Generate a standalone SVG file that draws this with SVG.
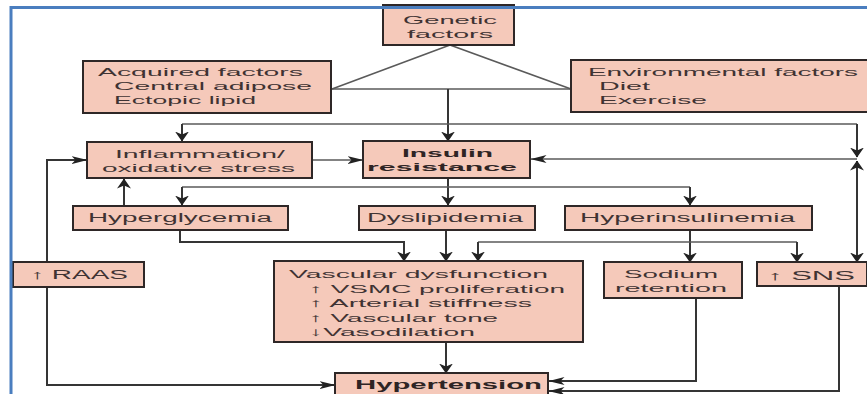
<svg xmlns="http://www.w3.org/2000/svg" width="867" height="394" viewBox="0 0 867 394">
<style>
.box{fill:#f5c9ba;stroke:#2e2727;stroke-width:2}
.t{font-family:"Liberation Sans",Arial,sans-serif;font-size:12.5px;fill:#3f3333}
.s{font-size:11.5px}
.b{font-weight:bold;fill:#2e2424}
.c{fill:none;stroke:#353535;stroke-width:2}
.g{fill:none;stroke:#5a5a5a;stroke-width:1.6}
</style>
<defs>
<marker id="av" markerUnits="userSpaceOnUse" markerWidth="10" markerHeight="14" viewBox="0 0 10 14" refX="9.5" refY="7" orient="auto-start-reverse">
<path d="M0,0 L10,7 L0,14 L3,7 z" fill="#222"/>
</marker>
<marker id="ah" markerUnits="userSpaceOnUse" markerWidth="16" markerHeight="8" viewBox="0 0 16 8" refX="15.5" refY="4" orient="auto">
<path d="M0,0 L16,4 L0,8 L4,4 z" fill="#222"/>
</marker>
</defs>
<rect width="867" height="394" fill="#fff"/>

<g id="connectors">
<path class="g" d="M450,45 L332,89"/>
<path class="g" d="M450,45 L571,89"/>
<path class="g" d="M332,89 L571,89"/>
<path class="c" d="M448,89 L448,141" marker-end="url(#av)"/>
<path class="g" d="M182,124 L857,124"/>
<path class="c" d="M182,124 L182,141" marker-end="url(#av)"/>
<path class="c" d="M857,124 L857,157" marker-end="url(#av)"/>
<path class="g" d="M312,160 L363,160" marker-end="url(#ah)"/>
<path class="g" d="M857,159 L531,159" marker-end="url(#ah)"/>
<path class="c" d="M857,161 L857,262" marker-start="url(#av)" marker-end="url(#av)"/>
<path class="c" d="M448,178 L448,205" marker-end="url(#av)"/>
<path class="g" d="M182,187 L690,187"/>
<path class="c" d="M182,187 L182,205" marker-end="url(#av)"/>
<path class="c" d="M690,187 L690,205" marker-end="url(#av)"/>
<path class="c" d="M124,206 L124,179" marker-end="url(#av)"/>
<path class="c" d="M47,262 L47,160 L87,160" marker-end="url(#ah)"/>
<path class="c" d="M180,230 L180,242 L404,242 L404,261" marker-end="url(#av)"/>
<path class="c" d="M446,230 L446,261" marker-end="url(#av)"/>
<path class="c" d="M690,230 L690,262" marker-end="url(#av)"/>
<path class="g" d="M478,242 L797,242"/>
<path class="c" d="M478,242 L478,261" marker-end="url(#av)"/>
<path class="c" d="M797,242 L797,262" marker-end="url(#av)"/>
<path class="c" d="M446,342 L446,373" marker-end="url(#av)"/>
<path class="c" d="M47,287 L47,385 L335,385" marker-end="url(#ah)"/>
<path class="c" d="M696,298 L696,381 L549,381" marker-end="url(#ah)"/>
<path class="c" d="M839,286 L839,391 L549,391" marker-end="url(#ah)"/>
</g>

<g id="genetic">
<rect class="box" x="383" y="5" width="131" height="40"/>
<text class="t s" x="403" y="24" textLength="94" lengthAdjust="spacingAndGlyphs">Genetic</text>
<text class="t s" x="407" y="38" textLength="86" lengthAdjust="spacingAndGlyphs">factors</text>
</g>

<g id="acquired">
<rect class="box" x="83" y="61" width="248" height="52"/>
<text class="t s" x="98" y="76" textLength="205" lengthAdjust="spacingAndGlyphs">Acquired factors</text>
<text class="t s" x="114" y="90" textLength="198" lengthAdjust="spacingAndGlyphs">Central adipose</text>
<text class="t s" x="114" y="104" textLength="142" lengthAdjust="spacingAndGlyphs">Ectopic lipid</text>
</g>

<g id="environmental">
<rect class="box" x="571" y="60" width="300" height="52"/>
<text class="t s" x="588" y="76" textLength="270" lengthAdjust="spacingAndGlyphs">Environmental factors</text>
<text class="t s" x="599" y="90" textLength="51" lengthAdjust="spacingAndGlyphs">Diet</text>
<text class="t s" x="599" y="104" textLength="108" lengthAdjust="spacingAndGlyphs">Exercise</text>
</g>

<g id="inflammation">
<rect class="box" x="87" y="142" width="225" height="36"/>
<text class="t s" x="115" y="158" textLength="170" lengthAdjust="spacingAndGlyphs">Inflammation/</text>
<text class="t s" x="102" y="172" textLength="193" lengthAdjust="spacingAndGlyphs">oxidative stress</text>
</g>

<g id="insulin">
<rect class="box" x="363" y="141" width="167" height="37"/>
<text class="t s b" x="402" y="157" textLength="91" lengthAdjust="spacingAndGlyphs">Insulin</text>
<text class="t s b" x="367" y="171" textLength="150" lengthAdjust="spacingAndGlyphs">resistance</text>
</g>

<g id="hyperglycemia">
<rect class="box" x="73" y="206" width="215" height="24"/>
<text class="t" x="88" y="222" textLength="184" lengthAdjust="spacingAndGlyphs">Hyperglycemia</text>
</g>

<g id="dyslipidemia">
<rect class="box" x="359" y="206" width="176" height="24"/>
<text class="t" x="367" y="222" textLength="156" lengthAdjust="spacingAndGlyphs">Dyslipidemia</text>
</g>

<g id="hyperinsulinemia">
<rect class="box" x="565" y="206" width="247" height="24"/>
<text class="t" x="580" y="222" textLength="215" lengthAdjust="spacingAndGlyphs">Hyperinsulinemia</text>
</g>

<g id="raas">
<rect class="box" x="13" y="262" width="131" height="25"/>
<text class="t" x="30" y="279" textLength="98" lengthAdjust="spacingAndGlyphs">↑ RAAS</text>
</g>

<g id="vascular">
<rect class="box" x="274" y="261" width="309" height="81"/>
<text class="t s" x="289" y="278" textLength="259" lengthAdjust="spacingAndGlyphs">Vascular dysfunction</text>
<text class="t s" x="309" y="292.5" textLength="256" lengthAdjust="spacingAndGlyphs">↑ VSMC proliferation</text>
<text class="t s" x="309" y="307" textLength="223" lengthAdjust="spacingAndGlyphs">↑ Arterial stiffness</text>
<text class="t s" x="309" y="321.5" textLength="189" lengthAdjust="spacingAndGlyphs">↑ Vascular tone</text>
<text class="t s" x="309" y="336" textLength="166" lengthAdjust="spacingAndGlyphs">↓Vasodilation</text>
</g>

<g id="sodium">
<rect class="box" x="604" y="262" width="138" height="36"/>
<text class="t s" x="624" y="278" textLength="94" lengthAdjust="spacingAndGlyphs">Sodium</text>
<text class="t s" x="615" y="292" textLength="112" lengthAdjust="spacingAndGlyphs">retention</text>
</g>

<g id="sns">
<rect class="box" x="757" y="262" width="110" height="24"/>
<text class="t" x="767" y="280" textLength="88" lengthAdjust="spacingAndGlyphs">↑ SNS</text>
</g>

<g id="hypertension">
<rect class="box" x="335" y="373" width="213" height="30"/>
<text class="t b" x="355" y="389" textLength="187" lengthAdjust="spacingAndGlyphs">Hypertension</text>
</g>

<path d="M11,394 L11,7.5 L867,7.5" fill="none" stroke="#4a7ebf" stroke-width="3"/>
</svg>
